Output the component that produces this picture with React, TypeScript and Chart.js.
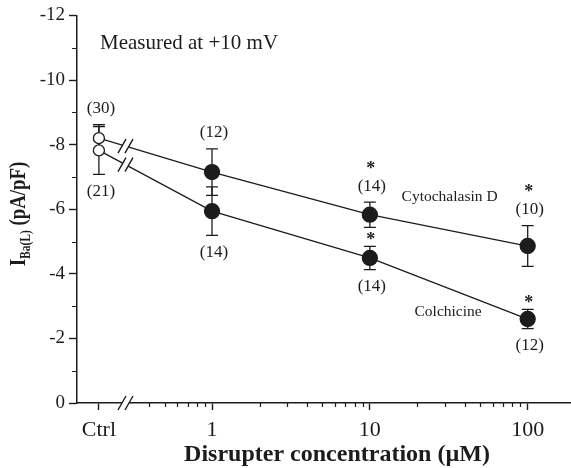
import React, { useEffect, useRef } from 'react';
import { Chart, registerables } from 'chart.js';

Chart.register(...registerables);

// ---- data ----
const concentrations = [1, 10, 100]; // µM
const ctrlPosition = 0.192; // where "Ctrl" sits on the log axis
const breakPosition = 0.283; // where the axis / line break is drawn
const xMin = 0.1395;
const xMax = 188.1;
const xTickValues = [1, 10, 100];
const xMinorTicks = [0.4, 0.5, 0.6, 0.7, 0.8, 0.9, 2, 3, 4, 5, 6, 7, 8, 9, 20, 30, 40, 50, 60, 70, 80, 90];
const yMinorTicks = [-11, -9, -7, -5, -3, -1];

const cytoMean = [-8.2, -7.15, -5.83, -4.86];
const cytoErr = [0.42, 0.72, 0.39, 0.63];
const cytoN = ['(30)', '(12)', '(14)', '(10)'];
const cytoSig = [false, false, true, true];

const colchMean = [-7.82, -5.94, -4.49, -2.6];
const colchErr = [0.74, 0.75, 0.36, 0.3];
const colchN = ['(21)', '(14)', '(14)', '(12)'];
const colchSig = [false, false, true, true];

const ink = '#1c1c1c';
const serif = '"Liberation Serif", "Times New Roman", serif';

const xPositions = [ctrlPosition, ...concentrations];

function slashBreak(ctx: CanvasRenderingContext2D, cx: number, cy: number, h: number) {
  const dx = 4;
  const gap = 3.5;
  ctx.save();
  ctx.fillStyle = '#fff';
  ctx.beginPath();
  ctx.moveTo(cx - gap - dx, cy + h);
  ctx.lineTo(cx - gap + dx, cy - h);
  ctx.lineTo(cx + gap + dx, cy - h);
  ctx.lineTo(cx + gap - dx, cy + h);
  ctx.closePath();
  ctx.fill();
  ctx.strokeStyle = ink;
  ctx.lineWidth = 1.4;
  ctx.beginPath();
  ctx.moveTo(cx - gap - dx, cy + h);
  ctx.lineTo(cx - gap + dx, cy - h);
  ctx.moveTo(cx + gap - dx, cy + h);
  ctx.lineTo(cx + gap + dx, cy - h);
  ctx.stroke();
  ctx.restore();
}

const decorPlugin = {
  id: 'decor',
  beforeDatasetsDraw(chart: any) {
    const { ctx, scales } = chart;
    const x = scales.x;
    const y = scales.y;
    ctx.save();
    ctx.strokeStyle = ink;
    ctx.lineWidth = 1.3;
    const series: [number[], number[]][] = [
      [cytoMean, cytoErr],
      [colchMean, colchErr],
    ];
    series.forEach(([m, e]) => {
      m.forEach((v, i) => {
        const px = x.getPixelForValue(xPositions[i]);
        const top = y.getPixelForValue(v - e[i]);
        const bot = y.getPixelForValue(v + e[i]);
        ctx.beginPath();
        ctx.moveTo(px, top);
        ctx.lineTo(px, bot);
        ctx.moveTo(px - 6, top);
        ctx.lineTo(px + 6, top);
        ctx.moveTo(px - 6, bot);
        ctx.lineTo(px + 6, bot);
        ctx.stroke();
      });
    });
    ctx.restore();
  },
  afterDraw(chart: any) {
    const { ctx, scales, chartArea } = chart;
    const x = scales.x;
    const y = scales.y;

    // breaks on the connecting lines
    [cytoMean, colchMean].forEach((m) => {
      const x0 = x.getPixelForValue(xPositions[0]);
      const y0 = y.getPixelForValue(m[0]);
      const x1 = x.getPixelForValue(xPositions[1]);
      const y1 = y.getPixelForValue(m[1]);
      const bx = x.getPixelForValue(breakPosition);
      const by = y0 + ((y1 - y0) * (bx - x0)) / (x1 - x0);
      slashBreak(ctx, bx, by, 7);
    });
    // axis break
    slashBreak(ctx, x.getPixelForValue(breakPosition), chartArea.bottom, 7);

    // minor ticks
    ctx.save();
    ctx.strokeStyle = ink;
    ctx.lineWidth = 1.2;
    ctx.beginPath();
    xMinorTicks.forEach((v) => {
      const px = Math.round(x.getPixelForValue(v)) + 0.5;
      ctx.moveTo(px, chartArea.bottom);
      ctx.lineTo(px, chartArea.bottom + 4);
    });
    yMinorTicks.forEach((v) => {
      const py = Math.round(y.getPixelForValue(v)) + 0.5;
      ctx.moveTo(chartArea.left - 5, py);
      ctx.lineTo(chartArea.left, py);
    });
    ctx.stroke();
    ctx.restore();

    // annotations
    ctx.save();
    ctx.fillStyle = ink;
    ctx.textAlign = 'center';
    ctx.textBaseline = 'middle';
    cytoMean.forEach((v, i) => {
      const px = x.getPixelForValue(xPositions[i]) + 2;
      const capTop = y.getPixelForValue(v - cytoErr[i]);
      ctx.font = `17px ${serif}`;
      ctx.fillText(cytoN[i], px, capTop - 16);
      if (cytoSig[i]) {
        ctx.font = `bold 18px ${serif}`;
        ctx.fillText('*', px - 1, capTop - 33);
      }
    });
    colchMean.forEach((v, i) => {
      const px = x.getPixelForValue(xPositions[i]) + 2;
      const capTop = y.getPixelForValue(v - colchErr[i]);
      const capBot = y.getPixelForValue(v + colchErr[i]);
      ctx.font = `17px ${serif}`;
      ctx.fillText(colchN[i], px, capBot + 17);
      if (colchSig[i]) {
        ctx.font = `bold 18px ${serif}`;
        ctx.fillText('*', px - 1, capTop - 6);
      }
    });

    // series names
    ctx.font = `15.5px ${serif}`;
    ctx.fillText('Cytochalasin D', x.getPixelForValue(32), y.getPixelForValue(-6.37));
    ctx.fillText('Colchicine', x.getPixelForValue(31.3), y.getPixelForValue(-2.82));

    // condition note
    ctx.textAlign = 'left';
    ctx.textBaseline = 'alphabetic';
    ctx.font = `21px ${serif}`;
    ctx.fillText('Measured at +10 mV', chartArea.left + 23, chartArea.top + 34);

    // x title
    ctx.textAlign = 'center';
    ctx.font = `bold 24px ${serif}`;
    ctx.fillText('Disrupter concentration (\u00b5M)', 337, chart.height - 7);

    // y title with subscript
    ctx.save();
    ctx.translate(25, 214);
    ctx.rotate(-Math.PI / 2);
    ctx.scale(0.82, 1);
    ctx.textAlign = 'left';
    const mainFont = `bold 23px ${serif}`;
    const subFont = `bold 14px ${serif}`;
    ctx.font = mainFont;
    const wI = ctx.measureText('I').width;
    const wRest = ctx.measureText(' (pA/pF)').width;
    ctx.font = subFont;
    const wSub = ctx.measureText('Ba(L)').width;
    const total = wI + wSub + wRest;
    let cx = -total / 2;
    ctx.font = mainFont;
    ctx.fillText('I', cx, 0);
    cx += wI;
    ctx.font = subFont;
    ctx.fillText('Ba(L)', cx, 5);
    cx += wSub;
    ctx.font = mainFont;
    ctx.fillText(' (pA/pF)', cx, 0);
    ctx.restore();

    ctx.restore();
  },
};

export default function App() {
  const ref = useRef<HTMLCanvasElement>(null);
  useEffect(() => {
    document.body.style.margin = '0';
    const canvas = ref.current;
    if (!canvas) return;
    const pointR = [5.5, 7.5, 7.5, 7.5];
    const pointBg = ['#ffffff', ink, ink, ink];
    const chart = new Chart(canvas, {
      type: 'line',
      data: {
        datasets: [
          {
            label: 'Cytochalasin D',
            data: xPositions.map((c, i) => ({ x: c, y: cytoMean[i] })),
            borderColor: ink,
            borderWidth: 1.3,
            pointRadius: pointR,
            pointBackgroundColor: pointBg,
            pointBorderColor: ink,
            pointBorderWidth: 1.3,
            tension: 0,
          },
          {
            label: 'Colchicine',
            data: xPositions.map((c, i) => ({ x: c, y: colchMean[i] })),
            borderColor: ink,
            borderWidth: 1.3,
            pointRadius: pointR,
            pointBackgroundColor: pointBg,
            pointBorderColor: ink,
            pointBorderWidth: 1.3,
            tension: 0,
          },
        ],
      },
      options: {
        responsive: false,
        animation: false,
        devicePixelRatio: 1,
        layout: { autoPadding: false, padding: { top: 15, right: 0, left: 0, bottom: 0 } },
        plugins: { legend: { display: false }, tooltip: { enabled: false } },
        scales: {
          x: {
            type: 'logarithmic',
            position: 'bottom',
            min: xMin,
            max: xMax,
            afterBuildTicks: (s: any) => {
              s.ticks = [ctrlPosition, ...xTickValues].map((v) => ({ value: v }));
            },
            afterFit: (s: any) => {
              s.height = 65;
              s.paddingRight = 0;
              s.paddingLeft = 0;
            },
            ticks: {
              autoSkip: false,
              maxRotation: 0,
              minRotation: 0,
              padding: 7,
              color: ink,
              font: { family: serif, size: 22 },
              callback: (v: any) => (v === ctrlPosition ? 'Ctrl' : String(v)),
            },
            grid: { display: true, drawOnChartArea: false, tickLength: 7, tickColor: ink, tickWidth: 1.4 },
            border: { display: true, color: ink, width: 1.5 },
          },
          y: {
            type: 'linear',
            reverse: true,
            min: -12,
            max: 0,
            afterFit: (s: any) => {
              s.width = 77;
            },
            ticks: {
              stepSize: 2,
              padding: 4,
              color: ink,
              font: { family: serif, size: 19 },
              callback: (v: any) => String(v),
            },
            grid: { display: true, drawOnChartArea: false, tickLength: 8, tickColor: ink, tickWidth: 1.4 },
            border: { display: true, color: ink, width: 1.5 },
          },
        },
      },
      plugins: [decorPlugin],
    } as any);
    return () => chart.destroy();
  }, []);
  return (
    <div style={{ width: 571, height: 468 }}>
      <canvas ref={ref} width={571} height={468} style={{ display: 'block' }} />
    </div>
  );
}
